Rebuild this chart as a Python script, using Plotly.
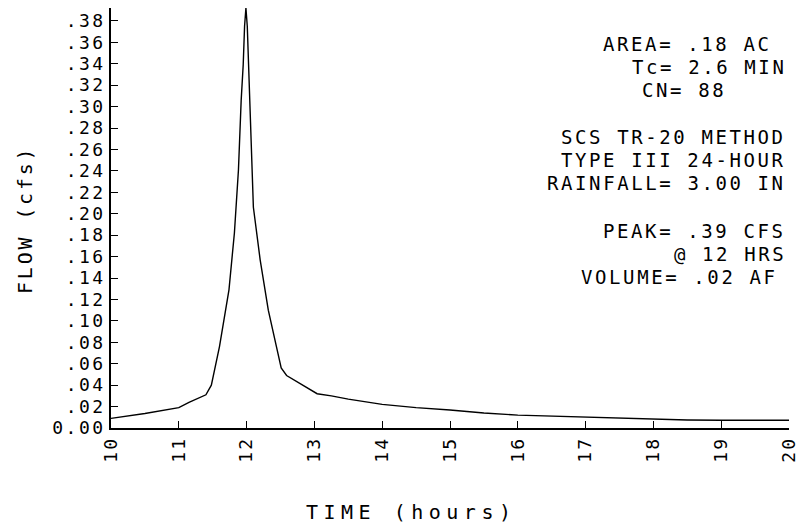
import plotly.graph_objects as go

time_hr = [10.0, 10.5, 11.0, 11.15, 11.4, 11.48, 11.6, 11.74, 11.82, 11.88, 11.92, 11.95, 11.97, 11.99,
           12.01, 12.03, 12.05, 12.06, 12.1, 12.2, 12.32, 12.44, 12.51, 12.59, 12.8, 13.04, 13.25, 13.5,
           14.0, 14.5, 15.0, 15.5, 16.0, 16.5, 17.0, 17.5, 18.0, 18.5, 19.0, 19.5, 20.0]
flow_cfs = [0.009, 0.0135, 0.019, 0.024, 0.031, 0.040, 0.076, 0.129, 0.182, 0.241, 0.306, 0.339, 0.375, 0.392,
            0.375, 0.341, 0.306, 0.275, 0.206, 0.157, 0.110, 0.076, 0.056, 0.049, 0.041, 0.032, 0.030, 0.027,
            0.022, 0.019, 0.0168, 0.014, 0.012, 0.011, 0.0105, 0.0095, 0.0084, 0.0075, 0.0072, 0.0072, 0.0072]

y_tickvals = [0.0, 0.02, 0.04, 0.06, 0.08, 0.10, 0.12, 0.14, 0.16, 0.18, 0.20,
              0.22, 0.24, 0.26, 0.28, 0.30, 0.32, 0.34, 0.36, 0.38]
y_ticklabels = ["0.00", ".02", ".04", ".06", ".08", ".10", ".12", ".14", ".16", ".18", ".20",
                ".22", ".24", ".26", ".28", ".30", ".32", ".34", ".36", ".38"]
x_tickvals = [10, 11, 12, 13, 14, 15, 16, 17, 18, 19, 20]
x_ticklabels = ["10", "11", "12", "13", "14", "15", "16", "17", "18", "19", "20"]

info_lines = ["AREA= .18 AC", "Tc= 2.6 MIN", "CN= 88",
              "SCS TR-20 METHOD", "TYPE III 24-HOUR", "RAINFALL= 3.00 IN",
              "PEAK= .39 CFS", "@ 12 HRS", "VOLUME= .02 AF"]

# ---- layout geometry ----
W, H = 798, 531
L, R, T, B = 111, 9, 8, 103
PW, PH = W - L - R, H - T - B
FONT = "DejaVu Sans Mono"


def px(x):
    return (x - L) / PW


def py(y):
    return (H - B - y) / PH


def sp(text, ls):
    return '<span style="letter-spacing:%spx">%s</span>' % (ls, text)


fig = go.Figure()
fig.add_trace(go.Scatter(x=time_hr, y=flow_cfs, mode="lines",
                         line=dict(color="black", width=1.4), hoverinfo="skip"))

fig.update_layout(
    width=W, height=H,
    margin=dict(l=L, r=R, t=T, b=B, pad=0, autoexpand=False),
    paper_bgcolor="white", plot_bgcolor="white",
    showlegend=False,
    font=dict(family=FONT, color="black", size=18),
)

fig.update_xaxes(range=[10, 20], showgrid=False, zeroline=False, automargin=False,
                 showline=True, linecolor="black", linewidth=1.5,
                 ticks="inside", ticklen=7, tickwidth=1.2, tickcolor="black",
                 tickvals=x_tickvals, ticktext=[sp(t, 2) for t in x_ticklabels],
                 tickangle=-90, ticklabeloverflow="allow",
                 tickfont=dict(family=FONT, size=18))
fig.update_yaxes(range=[0, 0.392], showgrid=False, zeroline=False, automargin=False,
                 showline=True, linecolor="black", linewidth=1.5,
                 ticks="inside", ticklen=7, tickwidth=1.2, tickcolor="black",
                 tickvals=y_tickvals, ticktext=[sp(t, 2.5) for t in y_ticklabels],
                 ticklabeloverflow="allow",
                 tickfont=dict(family=FONT, size=18))

# right-hand info block: (right edge px, center y px)
pos = [(770, 44), (785, 67), (725, 90),
       (785, 137), (785, 160), (785, 183),
       (785, 231), (785, 254), (777, 277)]
for txt, (xr, yc) in zip(info_lines, pos):
    fig.add_annotation(text=sp(txt, 2.6), xref="paper", yref="paper",
                       x=px(xr + 3), y=py(yc), xanchor="right", yanchor="middle",
                       showarrow=False, font=dict(family=FONT, size=19, color="black"))

# axis titles
fig.add_annotation(text=sp("TIME (hours)", 5.5), xref="paper", yref="paper",
                   x=px(411), y=py(512), xanchor="center", yanchor="middle",
                   showarrow=False, font=dict(family=FONT, size=20, color="black"))
fig.add_annotation(text=sp("FLOW (cfs)", 2.8), xref="paper", yref="paper",
                   x=px(25), y=py(220), xanchor="center", yanchor="middle", textangle=-90,
                   showarrow=False, font=dict(family=FONT, size=20, color="black"))

fig.write_html("out.html")
